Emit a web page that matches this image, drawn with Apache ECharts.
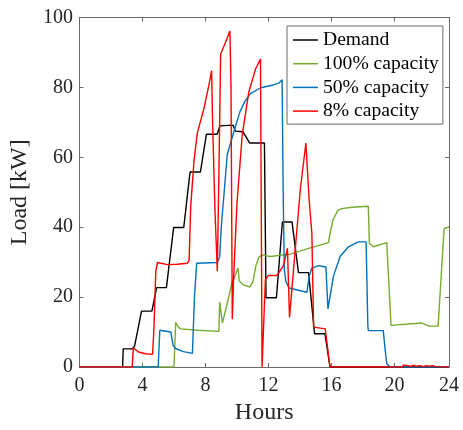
<!DOCTYPE html>
<html>
<head>
<meta charset="utf-8">
<script src="https://cdn.jsdelivr.net/npm/echarts@6/dist/echarts.min.js"></script>
<style>
  html, body { margin: 0; padding: 0; background: #fff; }
  #chart { width: 463px; height: 430px; }
</style>
</head>
<body>
<div id="chart"></div>
<script>
// Hourly load profiles: [hour, kW]
const demand = [
  [0, 0], [2.74, 0], [2.78, 5.2], [3.37, 5.2], [3.5, 6], [3.94, 16], [4.6, 16], [4.9, 22.7],
  [5.52, 22.7], [5.98, 39.9], [6.62, 39.9], [7.02, 55.8], [7.68, 55.8], [8.06, 66.6],
  [8.74, 66.6], [8.92, 69.0], [9.75, 69.2], [9.9, 67.5], [10.38, 67.3], [10.8, 64.1],
  [11.74, 64.1], [11.84, 19.8], [12.5, 19.8], [12.88, 41.5], [13.49, 41.5], [13.9, 27],
  [14.54, 27], [14.92, 9.5], [15.58, 9.5], [15.9, 0], [23.45, 0]
];

const cap100 = [
  [0, 0], [6.0, 0], [6.11, 12.8], [6.25, 11.5], [6.42, 10.9], [7.5, 10.5], [8.85, 10.2],
  [8.9, 18.6], [9.07, 12.6], [9.4, 18.5], [9.65, 23.6], [10.07, 28.3], [10.14, 24.7],
  [10.4, 23.5], [10.82, 22.9], [11.0, 24.2], [11.2, 29.0], [11.38, 31.4], [11.6, 32.1],
  [12.1, 31.6], [13.38, 32.3], [14.6, 34.0], [15.8, 35.6], [15.9, 38.2], [16.1, 42.2],
  [16.4, 44.8], [16.65, 45.3], [17.3, 45.7], [18.33, 46.0], [18.4, 35.4], [18.65, 34.4],
  [19.5, 35.6], [19.77, 11.9], [21.7, 12.6], [22.17, 11.7], [22.76, 11.7], [23.14, 39.6],
  [23.45, 40.1]
];

const cap50 = [
  [0, 0], [5.0, 0], [5.1, 10.5], [5.22, 10.9], [5.8, 10.0], [5.95, 6.2], [6.1, 5.3],
  [6.6, 4.4], [7.17, 3.9], [7.3, 20], [7.44, 29.7], [8.75, 29.9], [8.9, 31.5], [9.0, 40],
  [9.17, 49.2], [9.38, 60.8], [9.8, 67.3], [10.2, 73.2], [10.5, 76.0], [10.85, 78.2],
  [11.5, 79.9], [12.3, 80.7], [12.65, 81.2], [12.86, 82.2], [12.93, 50], [13.0, 28],
  [13.1, 24.5], [13.3, 22.6], [14.44, 21.4], [14.58, 26], [14.75, 28.3], [15.17, 29.0],
  [15.64, 28.6], [15.77, 16.6], [16.12, 26.0], [16.54, 31.6], [17.07, 34.4], [17.7, 35.8],
  [18.19, 35.8], [18.3, 12], [18.33, 10.4], [19.28, 10.4], [19.39, 5.3], [19.5, 1.0],
  [19.7, 0], [23.45, 0]
];

const cap8 = [
  [0, 0], [3.35, 0], [3.42, 5.5], [3.52, 5.4], [3.75, 4.3], [4.2, 3.8], [4.64, 3.6],
  [4.72, 10], [4.85, 27.5], [4.95, 29.9], [5.58, 29.3], [6.2, 29.4], [6.85, 29.7],
  [6.96, 30.5], [7.06, 45.7], [7.27, 58.9], [7.48, 66.9], [7.9, 73.9], [8.21, 80.5],
  [8.39, 84.8], [8.45, 70], [8.6, 45], [8.75, 27.4], [8.85, 55], [8.96, 89.5], [9.17, 91.8],
  [9.55, 96.1], [9.62, 80], [9.7, 13.7], [9.78, 25], [10.0, 47], [10.33, 66.4],
  [10.75, 78.7], [11.17, 85.2], [11.49, 88.1], [11.59, 0], [11.7, 0], [11.8, 25],
  [12.0, 26.2], [12.54, 26.2], [12.95, 29], [13.2, 34], [13.33, 14.2], [14.02, 51],
  [14.37, 64.1], [14.58, 47.6], [14.75, 38.2], [14.86, 11.4], [15.6, 10.9], [15.9, 0],
  [20.5, 0], [20.55, 0.6], [20.6, 0.1], [20.8, 0.4], [21.0, 0.2], [21.2, 0.5], [21.4, 0.2],
  [21.6, 0.4], [21.8, 0.1], [22.0, 0.4], [22.2, 0.2], [22.4, 0.4], [22.6, 0.1], [22.7, 0],
  [23.45, 0]
];

const seriesNames = ['Demand', '100% capacity', '50% capacity', '8% capacity'];
const xTickLabels = ['0', '4', '8', '12', '16', '20', '24'];
const yTickLabels = ['0', '20', '40', '60', '80', '100'];

const X_END = 23.45;
const FONT = '"Liberation Serif", "Times New Roman", serif';
const AXIS_COLOR = '#6a6a6a';
const TEXT_COLOR = '#262626';
const colors = ['#000000', '#77AC30', '#0072BD', '#FF0000'];

const frameAxis = (extra) => Object.assign({
  type: 'value',
  axisLine: { show: true, onZero: false, lineStyle: { color: AXIS_COLOR, width: 1 } },
  axisTick: { show: true, inside: true, length: 4, lineStyle: { color: AXIS_COLOR, width: 1 } },
  splitLine: { show: false },
  axisLabel: { show: false }
}, extra);

const chart = echarts.init(document.getElementById('chart'), null, { renderer: 'canvas' });

chart.setOption({
  animation: false,
  backgroundColor: '#ffffff',
  color: colors,
  grid: { left: 78, right: 14, top: 17.5, bottom: 58, containLabel: false },
  legend: {
    data: seriesNames,
    orient: 'vertical',
    left: 287,
    top: 26,
    padding: [4, 4, 3, 6],
    icon: 'rect',
    itemWidth: 25,
    itemHeight: 1.5,
    itemGap: 3.7,
    backgroundColor: '#ffffff',
    borderColor: AXIS_COLOR,
    borderWidth: 1,
    borderRadius: 0,
    textStyle: { fontFamily: FONT, fontSize: 19.6, color: '#000000' }
  },
  xAxis: [
    frameAxis({
      position: 'bottom',
      min: 0, max: X_END, interval: 4,
      name: 'Hours',
      nameLocation: 'middle',
      nameGap: 34,
      nameTextStyle: { fontFamily: FONT, fontSize: 24, color: TEXT_COLOR },
      axisLabel: {
        show: true, margin: 9, fontFamily: FONT, fontSize: 20, color: TEXT_COLOR,
        showMinLabel: true, showMaxLabel: true,
        formatter: (v, i) => xTickLabels[i]
      }
    }),
    frameAxis({ position: 'top', min: 0, max: X_END, interval: 4 })
  ],
  yAxis: [
    frameAxis({
      position: 'left',
      min: 0, max: 100, interval: 20,
      name: 'Load [kW]',
      nameLocation: 'middle',
      nameRotate: 90,
      nameGap: 42,
      nameTextStyle: { fontFamily: FONT, fontSize: 24, color: TEXT_COLOR },
      axisLabel: {
        show: true, margin: 6.5, fontFamily: FONT, fontSize: 20, color: TEXT_COLOR,
        formatter: (v, i) => yTickLabels[i]
      }
    }),
    frameAxis({ position: 'right', min: 0, max: 100, interval: 20 })
  ],
  series: [demand, cap100, cap50, cap8].map((d, k) => ({
    name: seriesNames[k],
    type: 'line',
    data: d,
    xAxisIndex: 0,
    yAxisIndex: 0,
    symbol: 'none',
    smooth: false,
    lineStyle: { width: 1.4, color: colors[k] },
    itemStyle: { color: colors[k] }
  }))
});
</script>
</body>
</html>
